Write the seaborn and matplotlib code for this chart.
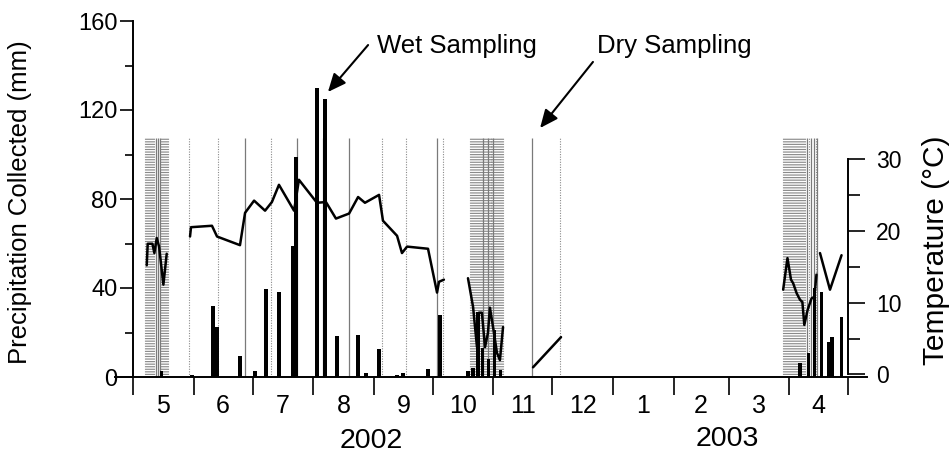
import numpy as np
import pandas as pd
import matplotlib
matplotlib.use("Agg")
import matplotlib.pyplot as plt
import seaborn as sns

# ---------------------------------------------------------------------------
# Data (time axis: days counted from 1 May 2002)
# ---------------------------------------------------------------------------
month_starts = [0, 31, 61, 92, 123, 153, 184, 214, 245, 276, 304, 335, 365]
month_labels = ["5", "6", "7", "8", "9", "10", "11", "12", "1", "2", "3", "4"]
year_labels = ["2002", "2003"]

# precipitation collected per sample (mm)
precip_day = [14.5, 30.0, 40.8, 42.9, 54.6, 62.3, 67.9, 74.5, 81.7, 83.2,
              93.9, 98.0, 104.1, 114.9, 118.9, 125.6, 134.8, 137.8, 150.6,
              156.7, 171.0, 173.5, 176.0, 178.5, 181.5, 184.5, 187.5,
              340.5, 344.8, 347.9, 351.5, 355.0, 356.8, 361.7]
precip_mm = [2.5, 1.0, 32.0, 22.5, 9.5, 2.5, 39.5, 38.0, 59.0, 99.0,
             130.0, 125.0, 18.5, 19.0, 2.0, 12.5, 1.0, 2.0, 3.5,
             28.0, 2.5, 4.0, 29.0, 13.0, 8.0, 21.0, 3.0,
             6.3, 10.8, 40.0, 38.0, 15.7, 18.0, 27.0]

# air temperature (deg C), one list per sampling period
temp_may_day = [7.0, 7.5, 9.9, 10.9, 12.1, 13.3, 15.5, 17.2]
temp_may_c = [15.2, 18.2, 18.2, 16.9, 19.0, 17.8, 12.5, 16.8]
temp_summer_day = [29.1, 29.6, 40.3, 42.9, 54.6, 57.2, 61.8, 67.4, 70.9, 74.5,
                   82.2, 84.7, 93.9, 98.5, 103.6, 110.3, 114.9, 118.4, 125.6,
                   127.6, 134.8, 137.3, 139.9, 150.6, 155.2, 156.2, 158.7]
temp_summer_c = [19.2, 20.5, 20.7, 19.2, 18.0, 22.5, 24.2, 22.8, 24.0, 26.4,
                 22.8, 27.1, 23.9, 24.0, 21.7, 22.4, 24.7, 23.9, 25.0,
                 21.4, 19.3, 16.9, 17.8, 17.5, 11.4, 12.9, 13.2]
temp_oct_day = [171.0, 173.6, 175.6, 176.6, 178.1, 179.7, 181.2, 182.2, 183.8,
                185.8, 187.3, 188.9]
temp_oct_c = [13.4, 9.4, 3.8, 8.6, 8.6, 3.8, 5.8, 9.3, 6.6, 3.0, 2.0, 6.6]
temp_nov_day = [204.2, 218.5]
temp_nov_c = [1.0, 5.2]
temp_apr_day = [331.9, 334.1, 335.9, 337.0, 338.8, 340.5, 341.7, 342.7, 344.4,
                346.4, 347.8, 348.9]
temp_apr_c = [11.8, 16.2, 13.2, 12.7, 11.3, 10.4, 10.1, 6.9, 9.0, 10.6, 10.8, 13.9]
temp_late_apr_day = [350.7, 355.8, 361.7]
temp_late_apr_c = [16.9, 11.8, 16.6]

# sampling events (day of sample)
wet_sampling = [11.7, 12.8, 13.8, 57.2, 83.7, 97.0, 110.3, 155.2, 178.7, 181.2,
                183.8, 203.7, 344.0, 346.0, 347.6, 349.1]
dry_sampling = [6.0, 6.5, 7.0, 7.5, 8.0, 8.5, 9.0, 9.5, 10.0, 10.5,
                14.5, 15.0, 15.5, 16.0, 16.5, 17.0, 17.5, 18.0,
                28.6, 43.4, 70.4, 127.1, 139.4, 158.2,
                172.0, 172.5, 173.0, 173.5, 174.0, 174.5, 175.0, 175.5, 176.0,
                176.5, 177.0, 177.5, 178.0, 178.5, 179.0, 179.5, 180.0, 180.5,
                181.0, 181.5, 182.0, 182.5, 183.0, 183.5, 184.0, 184.5, 185.0,
                185.5, 186.0, 186.5, 187.0, 187.5, 188.0, 188.5, 189.0,
                218.0,
                332.0, 332.5, 333.0, 333.5, 334.0, 334.5, 335.0, 335.5, 336.0,
                336.5, 337.0, 337.5, 338.0, 338.5, 339.0, 339.5, 340.0, 340.5,
                341.0, 341.5, 342.0, 342.5, 343.0, 345.0, 348.5]
sampling_line_top = 107.4  # mm

# ---------------------------------------------------------------------------
# Style
# ---------------------------------------------------------------------------
sns.set_style("ticks", {"axes.edgecolor": "black", "xtick.color": "black",
                        "ytick.color": "black", "text.color": "black",
                        "axes.labelcolor": "black"})
plt.rcParams["font.family"] = ["Liberation Sans", "DejaVu Sans"]

W, H = 952, 454
fig = plt.figure(figsize=(W / 100, H / 100), dpi=100)
ax = fig.add_axes([115 / W, 1 - 377 / H, (867 - 115) / W, (377 - 21) / H])
ax2 = ax.twinx()

# sampling markers
ax.vlines(dry_sampling, 0, sampling_line_top, colors="#8a8a8a",
          linestyles=(0, (1, 1.3)), linewidth=0.8, zorder=1)
ax.vlines(wet_sampling, 0, sampling_line_top, colors="#7a7a7a",
          linewidth=0.9, zorder=1)

# precipitation bars
precip_df = pd.DataFrame({"day": precip_day, "mm": precip_mm})
bar_frac = 1.8 / np.diff(np.unique(precip_day)).min()
sns.barplot(data=precip_df, x="day", y="mm", native_scale=True, orient="x",
            width=bar_frac, color="black", saturation=1, errorbar=None,
            linewidth=0, ax=ax, zorder=2)

# temperature line, one unit per sampling period
segments = [(temp_may_day, temp_may_c), (temp_summer_day, temp_summer_c),
            (temp_oct_day, temp_oct_c), (temp_nov_day, temp_nov_c),
            (temp_apr_day, temp_apr_c), (temp_late_apr_day, temp_late_apr_c)]
temp_df = pd.concat([pd.DataFrame({"day": d, "temp": t, "seg": i})
                     for i, (d, t) in enumerate(segments)], ignore_index=True)
sns.lineplot(data=temp_df, x="day", y="temp", units="seg", estimator=None,
             sort=False, color="black", linewidth=1.8, ax=ax2)

# ---------------------------------------------------------------------------
# Axes
# ---------------------------------------------------------------------------
ax.set_xlim(-9.2, 374.7)
ax.set_ylim(0, 160)
ax2.set_ylim(-0.35, 49.2)
ax.set_xlabel("")
ax.set_ylabel("")
ax2.set_xlabel("")
ax2.set_ylabel("")

for a in (ax, ax2):
    a.spines["top"].set_visible(False)
ax.spines["right"].set_visible(False)
ax2.spines["left"].set_visible(False)
ax2.spines["bottom"].set_visible(False)
ax.spines["left"].set_position(("data", 0))
ax2.spines["right"].set_position(("data", 365))
ax2.spines["right"].set_bounds(0, 30)
for s in ("left", "bottom"):
    ax.spines[s].set_linewidth(1.4)
ax2.spines["right"].set_linewidth(1.4)

ax.set_xticks(month_starts)
ax.set_xticklabels([])
mids = [(a + b) / 2 for a, b in zip(month_starts[:-1], month_starts[1:])]
ax.set_xticks(mids, minor=True)
ax.set_xticklabels(month_labels, minor=True)
ax.tick_params(axis="x", which="major", direction="out", length=13, width=1.2)
ax.tick_params(axis="x", which="minor", length=0, labelsize=18, pad=12)

ax.set_yticks([0, 40, 80, 120, 160])
ax.set_yticks([20, 60, 100, 140], minor=True)
ax.tick_params(axis="y", which="major", direction="out", length=9.5, width=1.2,
               labelsize=17, pad=1.5)
ax.tick_params(axis="y", which="minor", direction="out", length=6, width=1.2)

ax2.set_yticks([0, 10, 20, 30])
ax2.set_yticks([5, 15, 25], minor=True)
ax2.tick_params(axis="y", which="major", direction="out", length=12, width=1.2,
                labelsize=16.5, pad=8)
ax2.tick_params(axis="y", which="minor", direction="out", length=8.5, width=1.2)

# axis titles
fig.text(27 / W, 1 - 202 / H, "Precipitation Collected (mm)", rotation=90,
         rotation_mode="anchor", ha="center", va="baseline", fontsize=18.5)
fig.text(944 / W, 1 - 250 / H, "Temperature (°C)", rotation=90,
         rotation_mode="anchor", ha="center", va="baseline", fontsize=21.5)
fig.text(371 / W, 1 - 448 / H, year_labels[0], ha="center", va="baseline",
         fontsize=20.5)
fig.text(727 / W, 1 - 446 / H, year_labels[1], ha="center", va="baseline",
         fontsize=20.5)

# call-outs
arrow = dict(arrowstyle="-|>,head_length=0.5,head_width=0.22", color="black",
             lw=1.5, mutation_scale=22, shrinkA=0, shrinkB=0)
ax.annotate("", xy=(99.5, 128.1), xytext=(120.0, 149.2), arrowprops=arrow,
            annotation_clip=False)
ax.text(124.6, 145.6, "Wet Sampling", fontsize=18.5, ha="left", va="baseline")
ax.annotate("", xy=(207.8, 111.9), xytext=(234.8, 141.6), arrowprops=arrow,
            annotation_clip=False)
ax.text(236.9, 145.6, "Dry Sampling", fontsize=18.5, ha="left", va="baseline")

fig.savefig("out.png", dpi=100)
